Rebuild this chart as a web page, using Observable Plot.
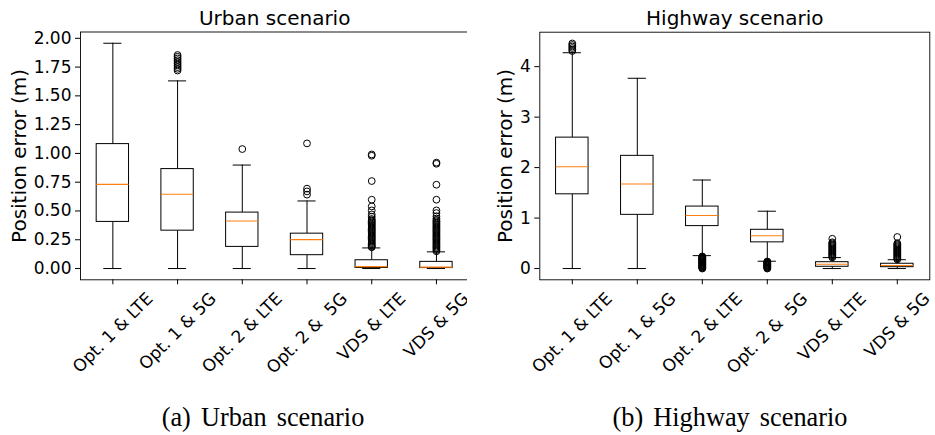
<!DOCTYPE html>
<html>
<head>
<meta charset="utf-8">
<script src="https://cdn.jsdelivr.net/npm/d3@7"></script>
<script src="https://cdn.jsdelivr.net/npm/@observablehq/plot@0.6"></script>
<style>
  html, body { margin: 0; padding: 0; background: #fff; }
  body { width: 935px; height: 435px; overflow: hidden; position: relative; font-family: "DejaVu Sans", sans-serif; }
  .panel { position: absolute; top: 0; }
  .panel svg text { white-space: pre; }
  .cap { position: absolute; font-family: "Liberation Serif", "Times New Roman", serif; font-size: 26.3px; line-height: 1; word-spacing: 3.5px; white-space: nowrap; transform: translateX(-50%); color: #000; }
</style>
</head>
<body>
<div id="urban" class="panel" style="left:0px"></div>
<div id="highway" class="panel" style="left:467px"></div>
<div class="cap" style="left:263px; top:405px">(a) Urban scenario</div>
<div class="cap" style="left:730px; top:405px">(b) Highway scenario</div>
<script>
// ---------- data ----------
const categories = ["Opt. 1 & LTE", "Opt. 1 & 5G", "Opt. 2 & LTE", "Opt. 2 &  5G", "VDS & LTE", "VDS & 5G"];

// Urban scenario box statistics (m)
const urbanLow    = [0, 0, 0, 0, 0, 0];
const urbanQ1     = [0.405, 0.329, 0.188, 0.116, 0.005, 0.004];
const urbanMedian = [0.731, 0.645, 0.413, 0.251, 0.017, 0.012];
const urbanQ3     = [1.081, 0.864, 0.486, 0.303, 0.072, 0.058];
const urbanHigh   = [1.957, 1.630, 0.899, 0.587, 0.179, 0.145];
const urbanFliers = [
  [],
  [1.72, 1.735, 1.75, 1.765, 1.78, 1.795, 1.81, 1.825, 1.84, 1.855],
  [1.038],
  [0.642, 0.670, 0.694, 1.087],
  [0.185, 0.19, 0.20, 0.21, 0.22, 0.23, 0.24, 0.25, 0.26, 0.27, 0.28, 0.29, 0.30, 0.31, 0.32, 0.33, 0.34, 0.35, 0.36, 0.37, 0.38, 0.39, 0.40, 0.41, 0.42, 0.43, 0.45, 0.47, 0.505, 0.54, 0.598, 0.76, 0.98, 0.991],
  [0.15, 0.16, 0.17, 0.18, 0.19, 0.20, 0.21, 0.22, 0.23, 0.24, 0.25, 0.26, 0.27, 0.28, 0.29, 0.30, 0.31, 0.32, 0.33, 0.34, 0.35, 0.36, 0.37, 0.38, 0.39, 0.40, 0.41, 0.42, 0.434, 0.454, 0.482, 0.505, 0.598, 0.728, 0.91, 0.92]
];
const urbanYTicks = [0, 0.25, 0.5, 0.75, 1.0, 1.25, 1.5, 1.75, 2.0];

// Highway scenario box statistics (m)
const highwayLow    = [0, 0, 0.256, 0.145, 0, 0];
const highwayQ1     = [1.471, 1.064, 0.841, 0.519, 0.035, 0.027];
const highwayMedian = [2.016, 1.675, 1.051, 0.650, 0.085, 0.059];
const highwayQ3     = [2.594, 2.233, 1.228, 0.768, 0.126, 0.095];
const highwayHigh   = [4.276, 3.770, 1.754, 1.136, 0.217, 0.175];
const highwayFliers = [
  [4.31, 4.34, 4.37, 4.40, 4.43, 4.46],
  [],
  [0, 0.01, 0.02, 0.03, 0.04, 0.05, 0.06, 0.07, 0.08, 0.09, 0.10, 0.11, 0.12, 0.13, 0.14, 0.15, 0.16, 0.17, 0.18, 0.19, 0.20, 0.21, 0.22, 0.23, 0.24],
  [0, 0.01, 0.02, 0.03, 0.04, 0.05, 0.06, 0.07, 0.08, 0.09, 0.10, 0.11, 0.12, 0.13, 0.14],
  [0.22, 0.24, 0.26, 0.28, 0.30, 0.32, 0.34, 0.36, 0.38, 0.40, 0.42, 0.44, 0.46, 0.48, 0.50, 0.52, 0.59],
  [0.18, 0.20, 0.22, 0.24, 0.26, 0.28, 0.30, 0.32, 0.34, 0.36, 0.38, 0.40, 0.42, 0.44, 0.46, 0.48, 0.50, 0.625]
];
const highwayYTicks = [0, 1, 2, 3, 4];

// ---------- drawing ----------
const ctx = document.createElement("canvas").getContext("2d");
ctx.font = "17px 'DejaVu Sans'";

function panel({title, low, q1, med, q3, high, fliers, yTicks, yFormat, width, marginLeft, marginRight, marginTop, labelDx}) {
  const height = 385;
  const frameBottom = 279.3;
  const rows = categories.map((c, i) => ({cat: c, pos: i + 1, low: low[i], q1: q1[i], med: med[i], q3: q3[i], high: high[i]}));
  const pts = fliers.flatMap((arr, i) => arr.map(v => ({pos: i + 1, v})));
  const maxV = d3.max([...high, ...pts.map(d => d.v)]);
  const minV = d3.min([...low, ...pts.map(d => d.v)]);
  const m = (maxV - minV) * 0.05;
  const labelMarks = categories.map((c, i) => {
    const w = ctx.measureText(c).width;
    const dy = 10 + (w + 17) * Math.SQRT1_2 / 2;
    return Plot.text([c], {x: () => i + 1, frameAnchor: "bottom", dy, rotate: -45, textAnchor: "middle", lineAnchor: "middle", fontSize: 17, fill: "black"});
  });
  return Plot.plot({
    width, height,
    marginLeft, marginRight, marginTop,
    marginBottom: height - frameBottom,
    x: {domain: [0.5, 6.5]},
    y: {domain: [minV - m, maxV + m]},
    style: {fontFamily: "'DejaVu Sans', sans-serif", color: "black", background: "white", overflow: "visible"},
    marks: [
      Plot.ruleX(rows, {x: "pos", y1: "low", y2: "q1", stroke: "black", strokeWidth: 1}),
      Plot.ruleX(rows, {x: "pos", y1: "q3", y2: "high", stroke: "black", strokeWidth: 1}),
      Plot.ruleY(rows, {y: "low", x1: d => d.pos - 0.14, x2: d => d.pos + 0.14, stroke: "black", strokeWidth: 1}),
      Plot.ruleY(rows, {y: "high", x1: d => d.pos - 0.14, x2: d => d.pos + 0.14, stroke: "black", strokeWidth: 1}),
      Plot.rect(rows, {x1: d => d.pos - 0.25, x2: d => d.pos + 0.25, y1: "q1", y2: "q3", fill: "white", stroke: "black", strokeWidth: 1}),
      Plot.ruleY(rows, {y: "med", x1: d => d.pos - 0.25, x2: d => d.pos + 0.25, stroke: "#ff7f0e", strokeWidth: 1.1}),
      Plot.dot(pts, {x: "pos", y: "v", r: 3.4, stroke: "black", fill: "none", strokeWidth: 1}),
      Plot.frame({stroke: "black", strokeWidth: 0.9}),
      Plot.axisY({ticks: yTicks, tickFormat: yFormat, tickSize: 5, tickPadding: 4, label: null, fontSize: 17}),
      Plot.axisX({ticks: [1, 2, 3, 4, 5, 6], tickFormat: () => "", tickSize: 5, label: null}),
      Plot.text([title], {frameAnchor: "top", dy: -7.5, textAnchor: "middle", lineAnchor: "bottom", fontSize: 20, fill: "black"}),
      Plot.text(["Position error (m)"], {frameAnchor: "left", rotate: -90, dx: labelDx, textAnchor: "middle", lineAnchor: "bottom", fontSize: 20, fill: "black"}),
      ...labelMarks
    ]
  });
}

document.getElementById("urban").append(panel({
  title: "Urban scenario",
  low: urbanLow, q1: urbanQ1, med: urbanMedian, q3: urbanQ3, high: urbanHigh, fliers: urbanFliers,
  yTicks: urbanYTicks, yFormat: d3.format(".2f"),
  width: 470, marginLeft: 80, marginRight: 1.7, marginTop: 31.5, labelDx: -55
}));

document.getElementById("highway").append(panel({
  title: "Highway scenario",
  low: highwayLow, q1: highwayQ1, med: highwayMedian, q3: highwayQ3, high: highwayHigh, fliers: highwayFliers,
  yTicks: highwayYTicks, yFormat: d3.format("d"),
  width: 468, marginLeft: 72.3, marginRight: 5.7, marginTop: 31.7, labelDx: -27.6
}));
</script>
</body>
</html>
